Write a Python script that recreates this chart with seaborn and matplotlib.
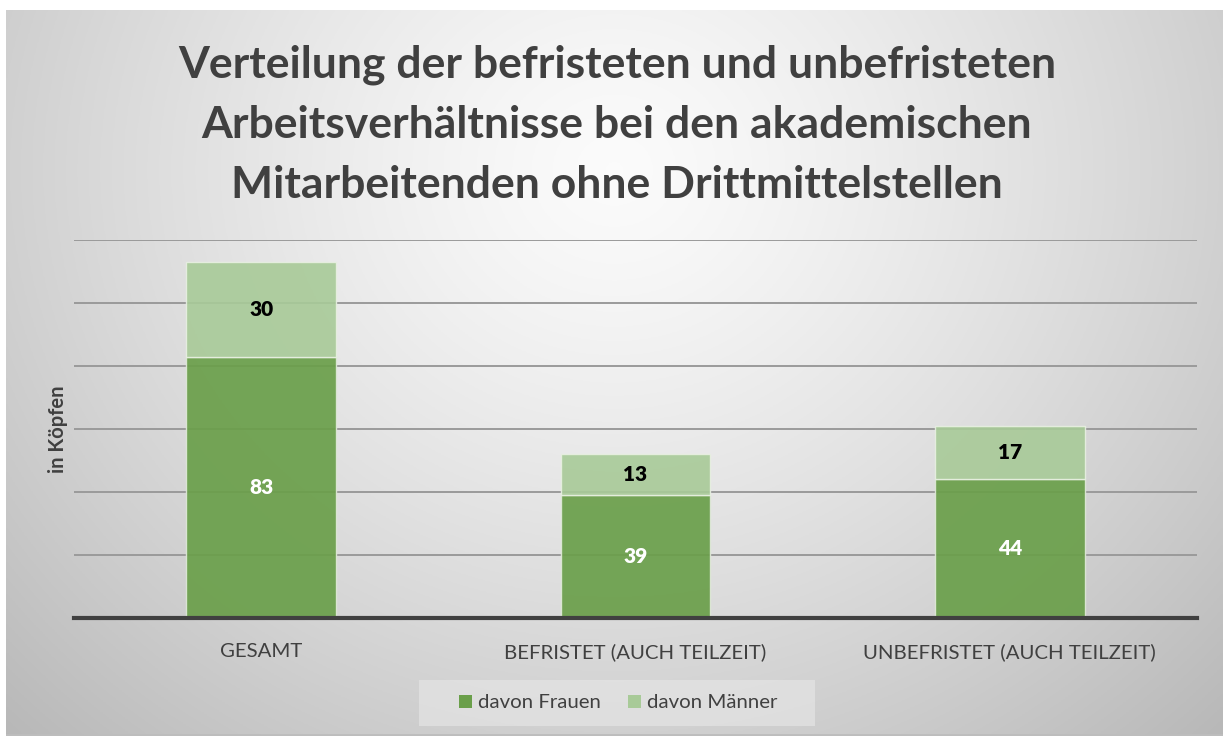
import matplotlib
matplotlib.use("Agg")
import matplotlib.pyplot as plt
import numpy as np
import pandas as pd
import seaborn as sns
from matplotlib.patches import Patch, Rectangle

categories = ["GESAMT", "BEFRISTET (AUCH TEILZEIT)", "UNBEFRISTET (AUCH TEILZEIT)"]
frauen = [83, 39, 44]
maenner = [30, 13, 17]
series_names = ["davon Frauen", "davon Männer"]
title = ("Verteilung der befristeten und unbefristeten\n"
         "Arbeitsverhältnisse bei den akademischen\n"
         "Mitarbeitenden ohne Drittmittelstellen")
ylabel = "in Köpfen"

sns.set_theme(style="white")
plt.rcParams["font.family"] = ["Lato", "DejaVu Sans"]

TEXT = "#404040"
DARK = "#6a9f4a"
LIGHT = "#a8ca98"

W, H = 1223, 736
fig = plt.figure(figsize=(W / 100, H / 100), dpi=100)
fig.patch.set_facecolor("white")

# radial gradient background of the chart area
bg = fig.add_axes([6 / W, 0, 1 - 6 / W, 1 - 10 / H], zorder=-5)
gx, gy = np.meshgrid(np.linspace(0, 1, 400), np.linspace(0, 1, 300))
r = np.sqrt(((gx - 0.5) / 0.62) ** 2 + ((gy - 0.22) / 0.95) ** 2)
shade = 0.985 - 0.22 * np.clip(r, 0, 1.3) ** 1.3
bg.imshow(np.dstack([shade] * 3), aspect="auto", extent=[0, 1, 1, 0])
bg.set_axis_off()
bg.plot([0, 1], [0.002, 0.002], color="#bdbdbd", lw=2, transform=bg.transAxes)

ax = fig.add_axes([74 / W, 1 - 618 / H, (1197 - 74) / W, (618 - 240) / H])
ax.patch.set_alpha(0)

df = pd.DataFrame({"cat": categories, "frauen": frauen, "maenner": maenner})
sns.barplot(data=df, x="cat", y="frauen", order=categories, color=DARK,
            saturation=1, width=0.4, alpha=0.92, edgecolor="#dfe9d8",
            linewidth=1, ax=ax, zorder=3)
ax.bar(np.arange(len(categories)), df["maenner"], bottom=df["frauen"],
       width=0.4, color=LIGHT, alpha=0.9, edgecolor="#e8f0e2", linewidth=1,
       zorder=3)

for i, (f, m) in enumerate(zip(frauen, maenner)):
    ax.text(i, f / 2, str(f), ha="center", va="center", color="white",
            fontsize=15, fontweight="heavy", zorder=5)
    ax.text(i, f + m / 2, str(m), ha="center", va="center", color="black",
            fontsize=15, fontweight="heavy", zorder=5)

ax.set_xlim(-0.5, 2.5)
ax.set_ylim(0, 120)
ax.set_yticks(range(20, 121, 20))
ax.yaxis.grid(True, color="#9a9a9a", linewidth=1.4, zorder=0)
ax.set_axisbelow(True)
ax.tick_params(axis="y", left=False, labelleft=False)
ax.tick_params(axis="x", bottom=False, pad=12, labelsize=14.7, colors=TEXT)
ax.set_xlabel("")
ax.set_ylabel(ylabel, fontsize=14.5, fontweight="bold", color=TEXT, labelpad=4)
for s in ["top", "right", "left"]:
    ax.spines[s].set_visible(False)
ax.spines["bottom"].set_color("#404040")
ax.spines["bottom"].set_linewidth(3)
ax.spines["bottom"].set_zorder(6)

fig.text(617 / W, 1 - 125 / H, title, ha="center", va="center",
         fontsize=32, fontweight="bold", color=TEXT, linespacing=1.6)

# legend box
fig.patches.append(Rectangle((419 / W, 1 - 726 / H), (815 - 419) / W, 46 / H,
                             transform=fig.transFigure, facecolor="#e6e6e6",
                             alpha=0.65, edgecolor="none", zorder=1))
handles = [Patch(facecolor=DARK, edgecolor="none"),
           Patch(facecolor=LIGHT, edgecolor="none")]
leg = fig.legend(handles, series_names, loc="center",
                 bbox_to_anchor=(618 / W, 1 - 703 / H), ncol=2, frameon=False,
                 fontsize=14.7, handlelength=0.65, handleheight=0.65,
                 handletextpad=0.3, columnspacing=1.3)
for t in leg.get_texts():
    t.set_color(TEXT)

fig.savefig("out.png", dpi=100)
